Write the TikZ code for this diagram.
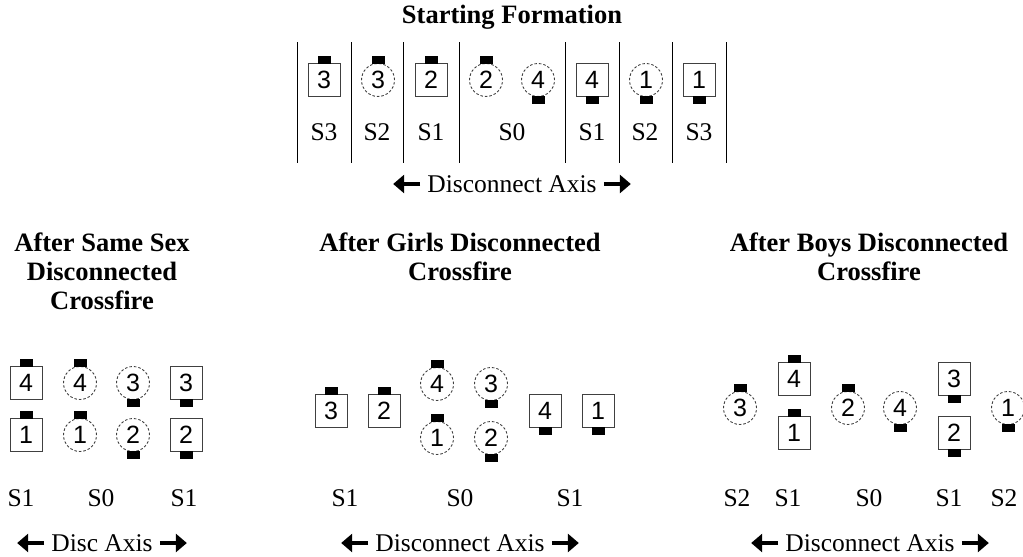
\documentclass[tikz,border=0pt]{standalone}
\usepackage{fontspec}
\setmainfont{Liberation Serif}
\newfontfamily\digitfont{Liberation Sans}
\usetikzlibrary{arrows.meta}
\tikzset{
  sq/.style={draw=black!75, line width=1pt, minimum width=32pt, minimum height=33pt, inner sep=0pt, font=\digitfont\fontsize{25}{25}\selectfont},
  ci/.style={draw=black!75, line width=0.9pt, dash pattern=on 2.5pt off 2pt, circle, minimum size=33pt, inner sep=0pt, font=\digitfont\fontsize{25}{25}\selectfont},
  lbl/.style={font=\fontsize{25.5}{29}\selectfont, inner sep=0pt},
  ttl/.style={font=\bfseries\fontsize{26.5}{29}\selectfont, align=center, inner sep=0pt},
  ax/.style={line width=4.5pt, -{Triangle[length=11pt,width=18pt]}},
  divider/.style={line width=1pt}
}
\newcommand\bumpN[1]{\fill ([xshift=-6.5pt,yshift=-1pt]#1.north) rectangle ([xshift=6.5pt,yshift=7pt]#1.north);}
\newcommand\bumpS[1]{\fill ([xshift=-6.5pt,yshift=1pt]#1.south) rectangle ([xshift=6.5pt,yshift=-7pt]#1.south);}
\newcommand\axisline[4]{% name, x, y, text
  \node[lbl] (#1) at (#2,#3) {#4};
  \draw[ax] ([xshift=-7pt]#1.west) -- ++(-27,0);
  \draw[ax] ([xshift=7pt]#1.east) -- ++(27,0);
}
\begin{document}
\begin{tikzpicture}[x=1pt,y=-1pt]
\useasboundingbox (0,0) rectangle (1023,557);
% ---------- Starting formation ----------
\node[ttl] (t0) at (512,17) {Starting Formation};
\foreach \x in {297,351,403,459,565,619,672,726}
  \draw[divider] (\x,42) -- (\x,163);
\node[sq] (t1) at (324,80) {3}; \bumpN{t1}
\node[ci] (t2) at (378,80) {3}; \bumpN{t2}
\node[sq] (t3) at (431,80) {2}; \bumpN{t3}
\node[ci] (t4) at (486,80) {2}; \bumpN{t4}
\node[ci] (t5) at (538,80) {4}; \bumpS{t5}
\node[sq] (t6) at (592,80) {4}; \bumpS{t6}
\node[ci] (t7) at (646,80) {1}; \bumpS{t7}
\node[sq] (t8) at (699,80) {1}; \bumpS{t8}
\node[lbl] (ts1) at (324,132) {S3};
\node[lbl] (ts2) at (377,132) {S2};
\node[lbl] (ts3) at (431,132) {S1};
\node[lbl] (ts4) at (512,132) {S0};
\node[lbl] (ts5) at (592,132) {S1};
\node[lbl] (ts6) at (645,132) {S2};
\node[lbl] (ts7) at (699,132) {S3};
\axisline{ta}{512}{184}{Disconnect Axis}
% ---------- Same sex ----------
\node[ttl] (l0) at (102,271) {After Same Sex\\Disconnected\\Crossfire};
\node[sq] (l1) at (26,383) {4}; \bumpN{l1}
\node[ci] (l2) at (80,383) {4}; \bumpN{l2}
\node[ci] (l3) at (133,383) {3}; \bumpS{l3}
\node[sq] (l4) at (186,383) {3}; \bumpS{l4}
\node[sq] (l5) at (26,435) {1}; \bumpN{l5}
\node[ci] (l6) at (80,435) {1}; \bumpN{l6}
\node[ci] (l7) at (133,435) {2}; \bumpS{l7}
\node[sq] (l8) at (186,435) {2}; \bumpS{l8}
\node[lbl] (ls1) at (21,498) {S1};
\node[lbl] (ls2) at (101,498) {S0};
\node[lbl] (ls3) at (184,498) {S1};
\axisline{la}{102}{543}{Disc Axis}
% ---------- Girls ----------
\node[ttl] (m0) at (460,257) {After Girls Disconnected\\Crossfire};
\node[sq] (m1) at (331,411) {3}; \bumpN{m1}
\node[sq] (m2) at (384,411) {2}; \bumpN{m2}
\node[ci] (m3) at (437,384) {4}; \bumpN{m3}
\node[ci] (m4) at (491,384) {3}; \bumpS{m4}
\node[ci] (m5) at (437,438) {1}; \bumpN{m5}
\node[ci] (m6) at (491,438) {2}; \bumpS{m6}
\node[sq] (m7) at (545,411) {4}; \bumpS{m7}
\node[sq] (m8) at (598,411) {1}; \bumpS{m8}
\node[lbl] (ms1) at (345,498) {S1};
\node[lbl] (ms2) at (460,498) {S0};
\node[lbl] (ms3) at (570,498) {S1};
\axisline{ma}{460}{543}{Disconnect Axis}
% ---------- Boys ----------
\node[ttl] (r0) at (869,257) {After Boys Disconnected\\Crossfire};
\node[ci] (r1) at (740,408) {3}; \bumpN{r1}
\node[sq] (r2) at (794,379) {4}; \bumpN{r2}
\node[sq] (r3) at (794,433) {1}; \bumpN{r3}
\node[ci] (r4) at (848,408) {2}; \bumpN{r4}
\node[ci] (r5) at (900,408) {4}; \bumpS{r5}
\node[sq] (r6) at (954,379) {3}; \bumpS{r6}
\node[sq] (r7) at (954,433) {2}; \bumpS{r7}
\node[ci] (r8) at (1008,408) {1}; \bumpS{r8}
\node[lbl] (rs1) at (737,498) {S2};
\node[lbl] (rs2) at (788,498) {S1};
\node[lbl] (rs3) at (869,498) {S0};
\node[lbl] (rs4) at (949,498) {S1};
\node[lbl] (rs5) at (1004,498) {S2};
\axisline{ra}{870}{543}{Disconnect Axis}
\end{tikzpicture}
\end{document}
